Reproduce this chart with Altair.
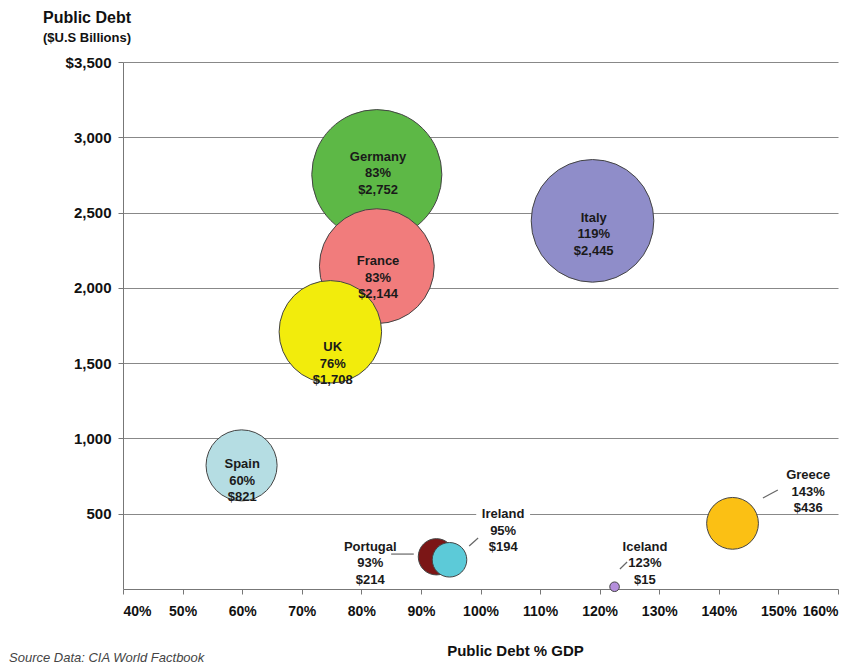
import altair as alt
import pandas as pd

countries = ["Germany", "France", "UK", "Italy", "Spain", "Greece", "Portugal", "Ireland", "Iceland"]
debt_pct_gdp = [83, 83, 76, 119, 60, 143, 93, 95, 123]          # as labelled
bubble_x = [82.6, 82.6, 74.8, 118.8, 59.9, 142.3, 92.6, 94.8, 122.5]  # as plotted
debt_billions = [2752, 2144, 1708, 2445, 821, 436, 214, 194, 15]
colors = ["#5DB846", "#F17C7C", "#F2EC0C", "#8F8DC9", "#B5DDE3", "#FBC014", "#7B1616", "#5CCAD8", "#B58FDC"]

# label anchor positions (data units)
label_x = [82.8, 82.8, 75.2, 119, 60, 155.0, 81.5, 103.8, 127.6]
label_y = [2870, 2178, 1607, 2464, 830, 757, 279, 498, 279]
outside = [False, False, False, False, False, True, True, True, True]

# leader lines for outside labels (data units)
lead_country = ["Greece", "Portugal", "Ireland", "Iceland"]
lead_x1 = [147.4, 85.0, 98.1, 123.4]
lead_y1 = [604, 232, 286, 133]
lead_x2 = [149.9, 88.8, 99.6, 124.6]
lead_y2 = [657, 232, 339, 179]

x_ticks = list(range(40, 161, 10))
y_ticks = list(range(500, 3501, 500))

df = pd.DataFrame({
    "country": countries,
    "pct": debt_pct_gdp,
    "bx": bubble_x,
    "debt": debt_billions,
    "lx": label_x,
    "ly": label_y,
    "outside": outside,
})
df["label"] = [f"{c}\n{p}%\n${d:,}" for c, p, d in zip(countries, debt_pct_gdp, debt_billions)]

leads = pd.DataFrame({"country": lead_country, "x1": lead_x1, "y1": lead_y1, "x2": lead_x2, "y2": lead_y2})

FONT = "Liberation Sans"
xs = alt.Scale(domain=[40, 160], nice=False, zero=False)
ys = alt.Scale(domain=[0, 3500], nice=False)

bubbles = alt.Chart(df).mark_point(
    shape="circle", filled=True, opacity=1, stroke="#444444", strokeWidth=1
).encode(
    x=alt.X("bx:Q", scale=xs, axis=alt.Axis(
        values=x_ticks, labelExpr="datum.value + '%'", grid=False,
        title="Public Debt % GDP", titleX=392, titleY=61, titleBaseline="middle",
        titleAnchor=None, titleAlign="center",
        titleFont=FONT, titleFontSize=15, titleFontWeight="bold", titleColor="#111111",
        labelFont=FONT, labelFontSize=14, labelFontWeight="bold", labelColor="#111111",
        labelPadding=10, tickSize=5, tickColor="#777777", domainColor="#777777",
    )),
    y=alt.Y("debt:Q", scale=ys, axis=alt.Axis(
        values=y_ticks, labelExpr="datum.value == 3500 ? '$3,500' : format(datum.value, ',')",
        grid=True, gridColor="#888888", gridWidth=1.2, title=None,
        labelFont=FONT, labelFontSize=15, labelFontWeight="bold", labelColor="#111111",
        labelPadding=7, tickSize=5, tickColor="#777777", domainColor="#777777",
    )),
    size=alt.Size("debt:Q", scale=alt.Scale(type="linear", domain=[0, 2752], range=[0, 16925], zero=True), legend=None),
    fill=alt.Fill("country:N", scale=alt.Scale(domain=countries, range=colors), legend=None),
    order=alt.value(0),
)

inner_text = alt.Chart(df).transform_filter("!datum.outside").mark_text(
    font=FONT, fontSize=13, fontWeight="bold", color="#1a1a1a", lineBreak="\n",
    lineHeight=16.5, baseline="middle", align="center",
).encode(x=alt.X("lx:Q", scale=xs), y=alt.Y("ly:Q", scale=ys), text="label:N")

boxes = alt.Chart(df).transform_filter("datum.outside && datum.country == 'Ireland'").mark_square(
    size=2900, color="white", opacity=1, filled=True
).encode(x=alt.X("lx:Q", scale=xs), y=alt.Y("ly:Q", scale=ys))

outer_text = alt.Chart(df).transform_filter("datum.outside").mark_text(
    font=FONT, fontSize=13, fontWeight="bold", color="#1a1a1a", lineBreak="\n",
    lineHeight=16.5, baseline="middle", align="center",
).encode(x=alt.X("lx:Q", scale=xs), y=alt.Y("ly:Q", scale=ys), text="label:N")

leaders = alt.Chart(leads).mark_rule(color="#666666", strokeWidth=1.2).encode(
    x=alt.X("x1:Q", scale=xs), y=alt.Y("y1:Q", scale=ys), x2="x2:Q", y2="y2:Q"
)

ytitle1 = alt.Chart(pd.DataFrame({"t": ["Public Debt"]})).mark_text(
    font=FONT, fontSize=16, fontWeight="bold", color="#111111", align="center", baseline="middle"
).encode(x=alt.value(-36), y=alt.value(-44), text="t:N")
ytitle2 = alt.Chart(pd.DataFrame({"t": ["($U.S Billions)"]})).mark_text(
    font=FONT, fontSize=13, fontWeight="bold", color="#111111", align="center", baseline="middle"
).encode(x=alt.value(-36), y=alt.value(-24), text="t:N")
source = alt.Chart(pd.DataFrame({"t": ["Source Data:  CIA World Factbook"]})).mark_text(
    font=FONT, fontSize=13, fontStyle="italic", color="#444444", align="left", baseline="middle"
).encode(x=alt.value(-114), y=alt.value(596), text="t:N")

chart = alt.layer(
    bubbles, inner_text, boxes, leaders, outer_text, ytitle1, ytitle2, source
).properties(
    width=715, height=527,
    padding={"left": 115, "top": 54, "right": 10, "bottom": 76},
    autosize="none",
    background="white",
).configure_view(stroke=None)

chart.save("out.html", embed_options={"renderer": "svg", "actions": False})
